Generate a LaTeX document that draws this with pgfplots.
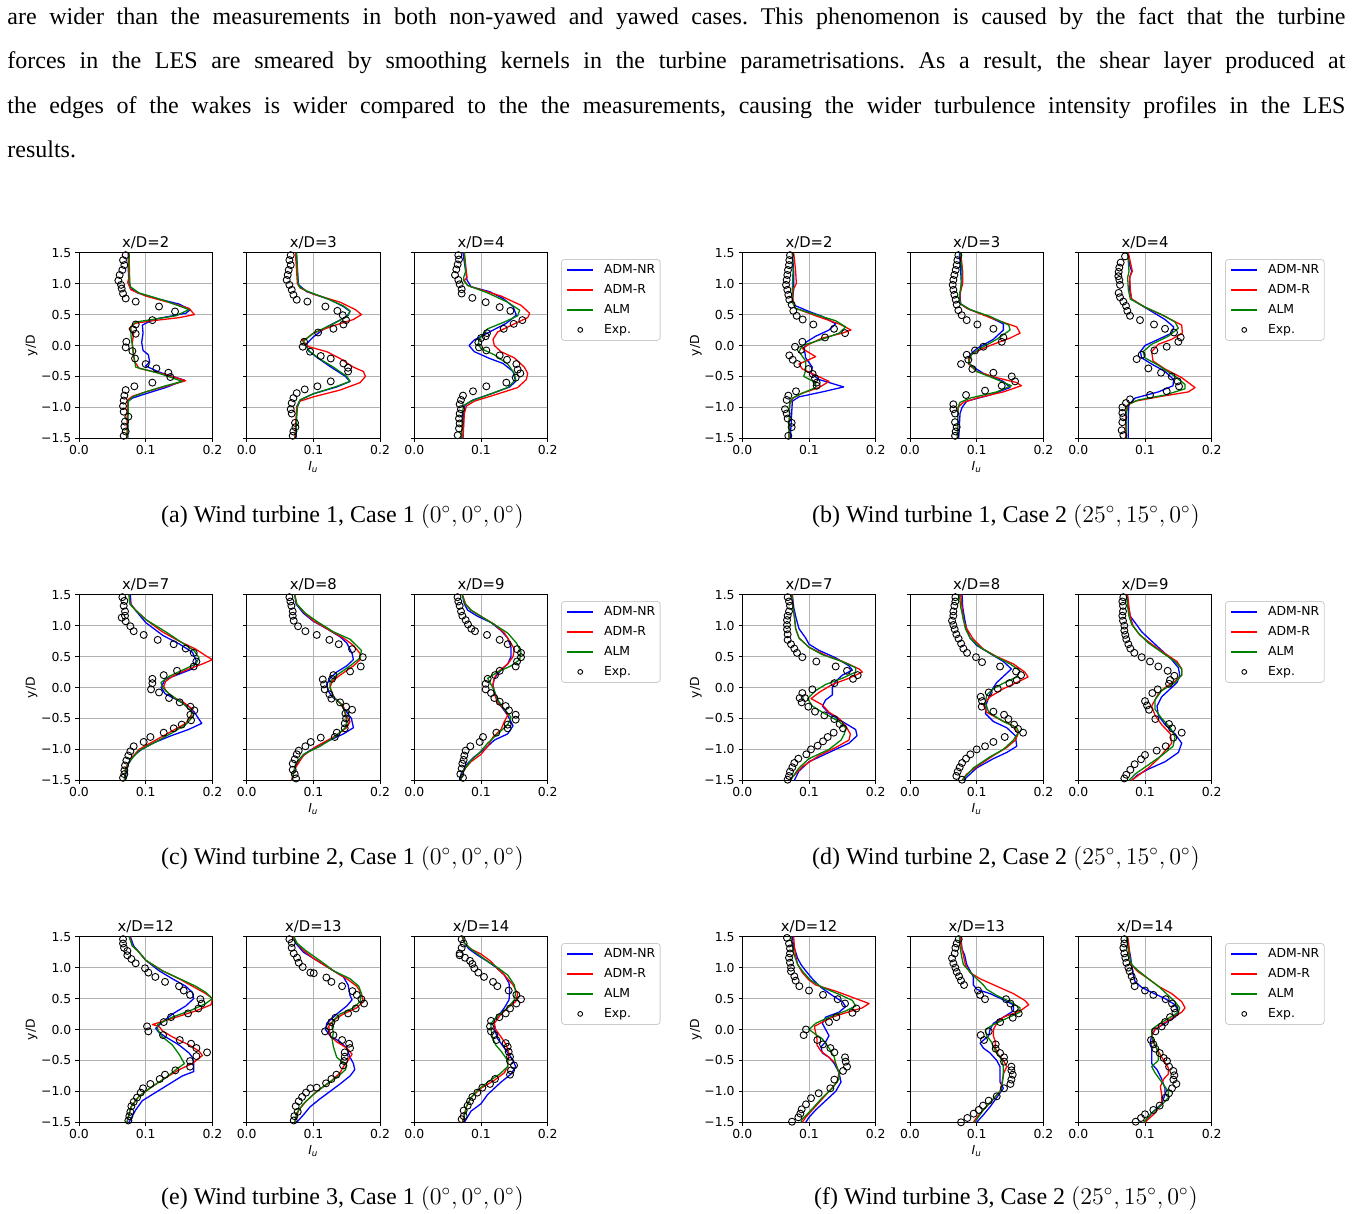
\documentclass[border=0pt]{standalone}
\usepackage[no-math]{fontspec}
\setmainfont{Liberation Serif}
\newfontfamily\djv{DejaVu Sans}
\usepackage{pgfplots}
\pgfplotsset{compat=1.18}
\definecolor{mgreen}{rgb}{0,0.5,0}
\definecolor{mred}{rgb}{1,0,0}
\definecolor{mblue}{rgb}{0,0,1}
\newcommand\tk{\djv\fontsize{6.2}{7.4}\selectfont}
\newcommand\ttl{\djv\fontsize{7.4}{8.8}\selectfont}
\pgfplotsset{
 every axis title shift=0pt,
 pan/.style={width=66.7pt,height=92.8pt,scale only axis,anchor=north west,
  xmin=0,xmax=0.2,ymin=-1.5,ymax=1.5,
  xtick={0,0.1,0.2},xticklabels={0.0,0.1,0.2},
  ytick={-1.5,-1,-0.5,0,0.5,1,1.5},yticklabels={},
  grid=major, major grid style={black!30,line width=0.4pt},
  axis line style={line width=0.45pt},
  tick style={black,line width=0.45pt},
  tick align=outside, major tick length=1.75pt,
  xtick pos=bottom, ytick pos=left,
  ticklabel style={font=\tk},
  xticklabel style={inner sep=0pt,anchor=north,yshift=-1.6pt},
  yticklabel style={inner sep=0pt,anchor=east,xshift=-1.9pt},
  title style={font=\ttl,at={(0.5,1)},anchor=base,yshift=2.7pt,inner sep=0pt},
  legend cell align=left,
  legend style={at={(1.1,0.966)},anchor=north west,draw=black!20,rounded corners=1.5pt,fill=white,font=\tk,
   inner xsep=2.5pt,inner ysep=2pt,row sep=3.5pt,column sep=5pt,
   nodes={inner sep=0pt,text height=5pt,text depth=1.5pt}},
 },
 firstaxis/.style={yticklabels={−1.5,−1.0,−0.5,0.0,0.5,1.0,1.5}},
 sNR/.style={color=mblue,line width=0.65pt,mark=none,line join=round},
 sR/.style={color=mred,line width=0.65pt,mark=none,line join=round},
 sALM/.style={color=mgreen,line width=0.65pt,mark=none,line join=round},
 sExp/.style={only marks,mark=o,mark size=1.75pt,mark options={black,line width=0.45pt}},
 lineimg/.style={legend image code/.code={\draw[##1] (0pt,0pt) -- (12.8pt,0pt);}},
 markimg/.style={legend image code/.code={\draw[##1] plot coordinates {(6.4pt,0pt)};}},
}
\newcommand\legcode{%
 \addlegendimage{lineimg,draw=mblue,line width=1pt}\addlegendentry{ADM-NR}%
 \addlegendimage{lineimg,draw=mred,line width=1pt}\addlegendentry{ADM-R}%
 \addlegendimage{lineimg,draw=mgreen,line width=1pt}\addlegendentry{ALM}%
 \addlegendimage{markimg,only marks,mark=o,mark size=1.2pt,mark options={black,line width=0.45pt}}\addlegendentry{Exp.}}
% #1,#2: top-left corner in reference pixels (1 px = 0.5 pt)
\newcommand\panel[9]{%
\begin{axis}[pan,at={({#1*0.5pt},{-#2*0.5pt})},title={x/D=#3},#4]
\addplot[sNR,forget plot] coordinates {#6};
\addplot[sR,forget plot] coordinates {#7};
\addplot[sALM,forget plot] coordinates {#8};
\addplot[sExp,forget plot] coordinates {#9};
#5
\end{axis}}
\newcommand\bodyline[2]{\node[anchor=base west,inner sep=0pt] at (7,#1) {\fontsize{12}{14}\selectfont\frenchspacing\makebox[669pt][s]{#2}};}
\begin{document}
\begin{tikzpicture}
\begin{scope}[x=0.5pt,y=-0.5pt]
\useasboundingbox (0,0) rectangle (1365,1214);
% body text
\bodyline{25}{are wider than the measurements in both non-yawed and yawed cases. This phenomenon is caused by the fact that the turbine}
\bodyline{69}{forces in the LES are smeared by smoothing kernels in the turbine parametrisations. As a result, the shear layer produced at}
\bodyline{113.5}{the edges of the wakes is wider compared to the the measurements, causing the wider turbulence intensity profiles in the LES}
\node[anchor=base west,inner sep=0pt,font=\fontsize{12}{14}\selectfont] at (7,158) {results.};
% axis labels
\foreach \r in {0,342,684}{
 \node[rotate=90,font=\tk,inner sep=0pt] at (31.7,345.5+\r) {y/D};
 \node[rotate=90,font=\tk,inner sep=0pt] at (696,345.5+\r) {y/D};
 \node[anchor=base,font=\tk,inner sep=0pt] at (313.4,470.7+\r) {\itshape I\textsubscript{u}};
 \node[anchor=base,font=\tk,inner sep=0pt] at (976.7,470.7+\r) {\itshape I\textsubscript{u}};
}
% captions
\begin{scope}[every node/.style={anchor=base,inner sep=0pt,font=\fontsize{12}{14}\selectfont}]
\node at (342.5,522) {(a) Wind turbine 1, Case 1 $(0^\circ,0^\circ,0^\circ)$};
\node at (1006,522) {(b) Wind turbine 1, Case 2 $(25^\circ,15^\circ,0^\circ)$};
\node at (342.5,864) {(c) Wind turbine 2, Case 1 $(0^\circ,0^\circ,0^\circ)$};
\node at (1006,864) {(d) Wind turbine 2, Case 2 $(25^\circ,15^\circ,0^\circ)$};
\node at (342.5,1204) {(e) Wind turbine 3, Case 1 $(0^\circ,0^\circ,0^\circ)$};
\node at (1006,1204) {(f) Wind turbine 3, Case 2 $(25^\circ,15^\circ,0^\circ)$};
\end{scope}
\end{scope}

% ================= (a) =================
\panel{79}{252.7}{2}{firstaxis}{}
{(0.074,1.5)(0.074,1.2)(0.075,1.0)(0.077,0.92)(0.088,0.85)(0.12,0.75)(0.15,0.67)(0.167,0.58)(0.16,0.52)(0.12,0.44)(0.108,0.4)(0.095,0.33)(0.096,0.2)(0.094,0.05)(0.096,-0.08)(0.104,-0.15)(0.106,-0.27)(0.1,-0.33)(0.12,-0.43)(0.158,-0.56)(0.13,-0.68)(0.1,-0.78)(0.08,-0.85)(0.074,-0.9)(0.073,-1.2)(0.073,-1.5)}
{(0.074,1.5)(0.075,1.1)(0.073,1.02)(0.078,0.9)(0.1,0.8)(0.14,0.68)(0.165,0.6)(0.173,0.5)(0.15,0.45)(0.11,0.4)(0.085,0.36)(0.08,0.33)(0.075,0.27)(0.082,0.2)(0.08,0.05)(0.081,-0.1)(0.083,-0.25)(0.09,-0.37)(0.13,-0.47)(0.16,-0.57)(0.13,-0.66)(0.1,-0.75)(0.08,-0.82)(0.073,-0.88)(0.072,-1.2)(0.072,-1.5)}
{(0.075,1.5)(0.076,1.05)(0.077,0.95)(0.09,0.85)(0.13,0.72)(0.165,0.58)(0.145,0.48)(0.11,0.42)(0.085,0.38)(0.078,0.3)(0.078,0.15)(0.08,0)(0.082,-0.15)(0.085,-0.35)(0.12,-0.45)(0.155,-0.58)(0.13,-0.65)(0.1,-0.75)(0.08,-0.83)(0.074,-0.9)(0.073,-1.5)}
{(0.07,1.46)(0.066,1.38)(0.068,1.30)(0.065,1.22)(0.061,1.14)(0.059,1.05)(0.063,0.98)(0.064,0.92)(0.066,0.84)(0.07,0.76)(0.085,0.71)(0.12,0.63)(0.144,0.55)(0.11,0.41)(0.085,0.34)(0.081,0.26)(0.085,0.19)(0.071,0.06)(0.07,-0.03)(0.08,-0.09)(0.084,-0.21)(0.10,-0.30)(0.116,-0.37)(0.134,-0.44)(0.137,-0.51)(0.11,-0.60)(0.083,-0.66)(0.07,-0.72)(0.068,-0.81)(0.067,-0.89)(0.066,-0.98)(0.067,-1.07)(0.074,-1.15)(0.069,-1.23)(0.068,-1.31)(0.07,-1.39)(0.067,-1.46)}
\panel{246.7}{252.7}{3}{}{}
{(0.074,1.5)(0.0775,1.0)(0.078,0.98)(0.09,0.87)(0.125,0.74)(0.145,0.63)(0.155,0.55)(0.15,0.47)(0.12,0.3)(0.1,0.14)(0.09,0.03)(0.092,-0.08)(0.105,-0.19)(0.125,-0.34)(0.148,-0.5)(0.155,-0.58)(0.135,-0.67)(0.1,-0.78)(0.08,-0.88)(0.075,-0.99)(0.074,-1.5)}
{(0.073,1.5)(0.076,1.0)(0.08,0.93)(0.1,0.83)(0.14,0.7)(0.163,0.58)(0.172,0.5)(0.16,0.42)(0.13,0.32)(0.1,0.2)(0.088,0.1)(0.0825,0.09)(0.093,-0.02)(0.12,-0.1)(0.14,-0.21)(0.16,-0.35)(0.175,-0.42)(0.178,-0.5)(0.17,-0.6)(0.14,-0.72)(0.1,-0.83)(0.08,-0.9)(0.075,-1.0)(0.072,-1.5)}
{(0.075,1.5)(0.077,1.0)(0.079,0.95)(0.09,0.88)(0.12,0.76)(0.145,0.64)(0.155,0.56)(0.152,0.48)(0.13,0.35)(0.1,0.2)(0.085,0.07)(0.088,0)(0.095,-0.1)(0.11,-0.22)(0.13,-0.35)(0.15,-0.5)(0.155,-0.58)(0.135,-0.66)(0.1,-0.78)(0.08,-0.88)(0.076,-1.0)(0.073,-1.5)}
{(0.066,1.46)(0.064,1.38)(0.066,1.30)(0.063,1.22)(0.0615,1.14)(0.06,1.06)(0.064,0.98)(0.0675,0.90)(0.07,0.82)(0.075,0.74)(0.091,0.71)(0.118,0.63)(0.136,0.56)(0.144,0.49)(0.149,0.41)(0.145,0.34)(0.13,0.27)(0.107,0.21)(0.086,0.06)(0.084,-0.02)(0.095,-0.10)(0.111,-0.17)(0.126,-0.21)(0.145,-0.29)(0.152,-0.36)(0.152,-0.42)(0.126,-0.58)(0.106,-0.66)(0.087,-0.71)(0.075,-0.77)(0.07,-0.85)(0.0675,-0.93)(0.066,-1.03)(0.0675,-1.10)(0.0725,-1.25)(0.073,-1.32)(0.07,-1.39)(0.069,-1.46)}
\panel{414.3}{252.7}{4}{}{\legcode}
{(0.073,1.5)(0.077,1.2)(0.079,1.06)(0.085,0.95)(0.113,0.87)(0.133,0.76)(0.148,0.63)(0.153,0.49)(0.138,0.36)(0.113,0.22)(0.09,0.09)(0.082,0)(0.09,-0.1)(0.113,-0.21)(0.133,-0.29)(0.148,-0.42)(0.152,-0.58)(0.143,-0.67)(0.118,-0.77)(0.088,-0.88)(0.076,-0.96)(0.074,-1.15)(0.073,-1.5)}
{(0.075,1.5)(0.078,1.2)(0.079,1.1)(0.075,1.05)(0.08,0.97)(0.1,0.9)(0.13,0.8)(0.16,0.65)(0.173,0.52)(0.17,0.45)(0.15,0.35)(0.125,0.22)(0.118,0.1)(0.12,0)(0.13,-0.1)(0.15,-0.2)(0.165,-0.35)(0.17,-0.45)(0.168,-0.55)(0.155,-0.68)(0.12,-0.8)(0.09,-0.9)(0.078,-0.98)(0.075,-1.1)(0.073,-1.5)}
{(0.075,1.5)(0.077,1.2)(0.074,1.1)(0.074,1.05)(0.08,0.97)(0.11,0.85)(0.14,0.7)(0.158,0.57)(0.155,0.48)(0.135,0.38)(0.11,0.27)(0.097,0.1)(0.096,0.03)(0.1,-0.05)(0.12,-0.15)(0.14,-0.3)(0.15,-0.45)(0.152,-0.55)(0.14,-0.68)(0.11,-0.8)(0.085,-0.9)(0.074,-0.97)(0.072,-1.1)(0.071,-1.5)}
{(0.066,1.46)(0.067,1.39)(0.065,1.31)(0.063,1.23)(0.061,1.14)(0.066,1.06)(0.068,0.99)(0.071,0.91)(0.071,0.84)(0.087,0.77)(0.107,0.70)(0.128,0.62)(0.144,0.56)(0.162,0.41)(0.149,0.35)(0.134,0.27)(0.109,0.20)(0.107,0.15)(0.10,0.12)(0.096,0.05)(0.097,-0.03)(0.108,-0.08)(0.128,-0.16)(0.139,-0.23)(0.153,-0.30)(0.155,-0.39)(0.159,-0.45)(0.152,-0.52)(0.138,-0.60)(0.108,-0.66)(0.088,-0.74)(0.073,-0.81)(0.070,-0.88)(0.068,-0.95)(0.070,-1.03)(0.068,-1.10)(0.067,-1.18)(0.068,-1.26)(0.067,-1.34)(0.065,-1.45)}
% ================= (b) =================
\panel{742.3}{252.7}{2}{firstaxis}{}
{(0.075,1.5)(0.077,1.2)(0.077,0.9)(0.075,0.75)(0.078,0.65)(0.1,0.55)(0.12,0.47)(0.14,0.35)(0.13,0.25)(0.11,0.15)(0.095,0.05)(0.093,-0.05)(0.095,-0.2)(0.105,-0.35)(0.103,-0.45)(0.115,-0.55)(0.152,-0.67)(0.12,-0.75)(0.085,-0.83)(0.075,-0.9)(0.074,-1.1)(0.072,-1.5)}
{(0.077,1.5)(0.08,1.2)(0.081,1.0)(0.076,0.9)(0.076,0.7)(0.08,0.6)(0.11,0.48)(0.145,0.35)(0.163,0.25)(0.15,0.2)(0.12,0.12)(0.1,0.02)(0.09,-0.05)(0.11,-0.18)(0.085,-0.3)(0.09,-0.38)(0.11,-0.48)(0.13,-0.58)(0.115,-0.68)(0.09,-0.77)(0.076,-0.85)(0.071,-0.95)(0.07,-1.5)}
{(0.075,1.5)(0.076,1.2)(0.075,0.9)(0.075,0.7)(0.08,0.6)(0.11,0.5)(0.14,0.4)(0.155,0.3)(0.145,0.2)(0.12,0.1)(0.09,0)(0.085,-0.1)(0.095,-0.25)(0.095,-0.4)(0.092,-0.5)(0.11,-0.6)(0.11,-0.68)(0.09,-0.77)(0.075,-0.85)(0.071,-0.95)(0.07,-1.5)}
{(0.0715,1.46)(0.0705,1.38)(0.07,1.30)(0.0685,1.22)(0.0675,1.14)(0.0665,1.06)(0.0655,0.98)(0.0675,0.90)(0.069,0.82)(0.0705,0.74)(0.074,0.66)(0.0765,0.56)(0.0815,0.48)(0.0905,0.42)(0.1065,0.34)(0.1375,0.27)(0.154,0.20)(0.124,0.13)(0.09,0.06)(0.079,-0.02)(0.088,-0.07)(0.0705,-0.16)(0.0755,-0.23)(0.0825,-0.30)(0.099,-0.38)(0.1055,-0.46)(0.109,-0.53)(0.1115,-0.60)(0.1115,-0.65)(0.0805,-0.74)(0.069,-0.81)(0.0665,-0.88)(0.064,-1.03)(0.0665,-1.10)(0.068,-1.18)(0.074,-1.25)(0.074,-1.32)(0.069,-1.46)}
\panel{910}{252.7}{3}{}{}
{(0.074,1.5)(0.076,1.2)(0.077,1.0)(0.075,0.8)(0.076,0.67)(0.09,0.58)(0.115,0.48)(0.14,0.35)(0.14,0.25)(0.125,0.1)(0.1,-0.05)(0.09,-0.15)(0.088,-0.28)(0.095,-0.35)(0.11,-0.45)(0.14,-0.58)(0.15,-0.68)(0.12,-0.8)(0.085,-0.9)(0.078,-1.0)(0.075,-1.1)(0.073,-1.5)}
{(0.076,1.5)(0.079,1.2)(0.079,1.0)(0.075,0.85)(0.075,0.68)(0.085,0.6)(0.12,0.45)(0.16,0.3)(0.165,0.2)(0.15,0.12)(0.12,0)(0.095,-0.12)(0.088,-0.2)(0.088,-0.3)(0.1,-0.42)(0.13,-0.52)(0.16,-0.6)(0.167,-0.65)(0.14,-0.75)(0.1,-0.85)(0.08,-0.92)(0.072,-1.0)(0.071,-1.5)}
{(0.075,1.5)(0.078,1.2)(0.077,1.0)(0.074,0.8)(0.075,0.68)(0.09,0.58)(0.12,0.47)(0.148,0.33)(0.15,0.25)(0.13,0.1)(0.105,-0.05)(0.092,-0.15)(0.088,-0.28)(0.1,-0.42)(0.13,-0.55)(0.152,-0.65)(0.13,-0.75)(0.09,-0.85)(0.075,-0.92)(0.072,-1.0)(0.071,-1.5)}
{(0.0725,1.46)(0.071,1.38)(0.07,1.30)(0.0685,1.22)(0.0665,1.14)(0.065,1.06)(0.064,0.98)(0.065,0.90)(0.0665,0.82)(0.0685,0.74)(0.07,0.66)(0.0725,0.57)(0.0775,0.49)(0.085,0.41)(0.101,0.34)(0.125,0.27)(0.14,0.13)(0.1375,0.06)(0.11,-0.02)(0.0975,-0.08)(0.085,-0.15)(0.0875,-0.23)(0.0765,-0.30)(0.0935,-0.38)(0.125,-0.44)(0.1525,-0.50)(0.1575,-0.58)(0.1375,-0.65)(0.1125,-0.73)(0.084,-0.80)(0.065,-0.95)(0.065,-1.03)(0.0675,-1.10)(0.0675,-1.24)(0.07,-1.32)(0.0685,-1.39)(0.0675,-1.46)}
\panel{1078.3}{252.7}{4}{}{\legcode}
{(0.074,1.5)(0.077,1.3)(0.08,1.2)(0.077,1.1)(0.077,0.9)(0.08,0.75)(0.09,0.68)(0.11,0.55)(0.13,0.42)(0.143,0.3)(0.14,0.2)(0.12,0.1)(0.1,0)(0.093,-0.1)(0.095,-0.2)(0.11,-0.3)(0.13,-0.42)(0.143,-0.55)(0.142,-0.65)(0.12,-0.75)(0.085,-0.85)(0.076,-0.95)(0.075,-1.1)(0.075,-1.5)}
{(0.075,1.5)(0.079,1.3)(0.081,1.2)(0.077,1.1)(0.078,0.9)(0.08,0.75)(0.1,0.62)(0.13,0.47)(0.155,0.33)(0.156,0.2)(0.14,0.1)(0.12,0.02)(0.11,-0.1)(0.112,-0.25)(0.13,-0.38)(0.155,-0.52)(0.175,-0.68)(0.165,-0.75)(0.12,-0.83)(0.085,-0.9)(0.073,-0.97)(0.071,-1.1)(0.071,-1.5)}
{(0.074,1.5)(0.076,1.2)(0.074,1.1)(0.075,0.9)(0.078,0.75)(0.1,0.62)(0.125,0.5)(0.145,0.38)(0.15,0.28)(0.135,0.15)(0.11,0.02)(0.097,-0.1)(0.1,-0.2)(0.12,-0.32)(0.145,-0.5)(0.16,-0.63)(0.16,-0.7)(0.13,-0.8)(0.09,-0.88)(0.075,-0.95)(0.072,-1.1)(0.072,-1.5)}
{(0.07,1.44)(0.0635,1.34)(0.0615,1.26)(0.0605,1.19)(0.06,1.12)(0.0615,1.06)(0.0625,0.98)(0.0605,0.85)(0.0625,0.78)(0.0675,0.71)(0.0715,0.64)(0.0735,0.56)(0.0775,0.48)(0.0925,0.41)(0.1135,0.34)(0.13,0.27)(0.1435,0.21)(0.1535,0.13)(0.15,0.06)(0.1325,-0.02)(0.114,-0.08)(0.095,-0.15)(0.0875,-0.22)(0.105,-0.37)(0.124,-0.44)(0.14,-0.50)(0.149,-0.58)(0.151,-0.66)(0.1325,-0.74)(0.1075,-0.80)(0.0775,-0.87)(0.0715,-0.93)(0.066,-1.00)(0.066,-1.09)(0.0675,-1.16)(0.066,-1.24)(0.065,-1.37)(0.0675,-1.45)}
% ================= (c) =================
\panel{79}{594.7}{7}{firstaxis}{}
{(0.077,1.5)(0.078,1.35)(0.083,1.27)(0.1,1.05)(0.126,0.84)(0.151,0.7)(0.17,0.57)(0.176,0.43)(0.17,0.3)(0.151,0.22)(0.129,0.13)(0.123,0)(0.129,-0.1)(0.145,-0.19)(0.164,-0.3)(0.173,-0.4)(0.184,-0.58)(0.164,-0.68)(0.138,-0.78)(0.113,-0.89)(0.094,-1.0)(0.082,-1.1)(0.072,-1.27)(0.069,-1.5)}
{(0.075,1.5)(0.077,1.35)(0.085,1.25)(0.1,1.1)(0.125,0.9)(0.15,0.75)(0.175,0.62)(0.192,0.5)(0.2,0.45)(0.185,0.38)(0.16,0.28)(0.14,0.18)(0.13,0.1)(0.127,0.02)(0.13,-0.05)(0.14,-0.15)(0.158,-0.25)(0.17,-0.35)(0.168,-0.45)(0.16,-0.58)(0.14,-0.7)(0.115,-0.85)(0.09,-1.0)(0.078,-1.15)(0.07,-1.3)(0.068,-1.5)}
{(0.075,1.5)(0.076,1.35)(0.085,1.25)(0.1,1.1)(0.13,0.9)(0.155,0.72)(0.172,0.6)(0.18,0.48)(0.175,0.38)(0.155,0.28)(0.135,0.18)(0.123,0.08)(0.125,0)(0.135,-0.1)(0.155,-0.25)(0.168,-0.38)(0.17,-0.48)(0.16,-0.6)(0.14,-0.73)(0.115,-0.88)(0.09,-1.02)(0.075,-1.2)(0.07,-1.35)(0.068,-1.5)}
{(0.065,1.46)(0.068,1.40)(0.067,1.32)(0.069,1.23)(0.069,1.16)(0.064,1.13)(0.070,1.07)(0.077,0.99)(0.082,0.91)(0.097,0.85)(0.118,0.77)(0.142,0.70)(0.160,0.63)(0.172,0.56)(0.176,0.42)(0.172,0.34)(0.147,0.27)(0.127,0.20)(0.110,0.14)(0.110,0.07)(0.108,-0.03)(0.12,-0.08)(0.135,-0.17)(0.151,-0.24)(0.167,-0.31)(0.173,-0.37)(0.167,-0.44)(0.168,-0.53)(0.154,-0.60)(0.142,-0.66)(0.127,-0.73)(0.107,-0.80)(0.097,-0.88)(0.082,-0.95)(0.077,-1.03)(0.074,-1.10)(0.071,-1.18)(0.069,-1.26)(0.068,-1.34)(0.068,-1.40)(0.066,-1.46)}
\panel{246.7}{594.7}{8}{}{}
{(0.072,1.5)(0.074,1.35)(0.085,1.2)(0.1,1.07)(0.12,0.95)(0.14,0.82)(0.15,0.72)(0.158,0.55)(0.16,0.45)(0.15,0.35)(0.135,0.25)(0.125,0.15)(0.12,0.05)(0.122,-0.05)(0.128,-0.15)(0.14,-0.25)(0.15,-0.4)(0.157,-0.5)(0.16,-0.65)(0.145,-0.75)(0.125,-0.85)(0.105,-0.95)(0.09,-1.05)(0.08,-1.15)(0.072,-1.3)(0.068,-1.5)}
{(0.072,1.5)(0.075,1.35)(0.087,1.2)(0.1,1.08)(0.125,0.92)(0.145,0.8)(0.16,0.68)(0.17,0.55)(0.17,0.45)(0.16,0.35)(0.14,0.2)(0.128,0.1)(0.125,0)(0.13,-0.15)(0.145,-0.3)(0.148,-0.45)(0.155,-0.55)(0.15,-0.65)(0.13,-0.8)(0.105,-0.95)(0.085,-1.1)(0.073,-1.3)(0.067,-1.5)}
{(0.072,1.5)(0.075,1.35)(0.088,1.2)(0.105,1.07)(0.13,0.9)(0.155,0.78)(0.172,0.6)(0.17,0.48)(0.155,0.35)(0.135,0.2)(0.125,0.1)(0.125,0)(0.13,-0.15)(0.14,-0.25)(0.148,-0.4)(0.15,-0.55)(0.148,-0.65)(0.132,-0.8)(0.11,-0.95)(0.085,-1.08)(0.073,-1.25)(0.068,-1.5)}
{(0.064,1.46)(0.0655,1.39)(0.067,1.32)(0.069,1.23)(0.069,1.16)(0.0705,1.08)(0.077,0.99)(0.088,0.91)(0.105,0.85)(0.124,0.77)(0.138,0.70)(0.158,0.62)(0.174,0.49)(0.171,0.34)(0.155,0.26)(0.130,0.20)(0.128,0.14)(0.114,0.13)(0.116,0.05)(0.117,-0.03)(0.124,-0.11)(0.127,-0.18)(0.140,-0.24)(0.149,-0.31)(0.158,-0.36)(0.148,-0.42)(0.149,-0.50)(0.147,-0.58)(0.147,-0.66)(0.135,-0.73)(0.132,-0.80)(0.111,-0.81)(0.096,-0.88)(0.088,-0.95)(0.078,-1.02)(0.075,-1.08)(0.072,-1.16)(0.069,-1.23)(0.069,-1.33)(0.072,-1.40)(0.074,-1.47)}
\panel{414.3}{594.7}{9}{}{\legcode}
{(0.072,1.5)(0.075,1.35)(0.08,1.25)(0.095,1.15)(0.115,1.05)(0.13,0.92)(0.14,0.8)(0.145,0.65)(0.145,0.5)(0.14,0.38)(0.13,0.28)(0.12,0.15)(0.118,0.05)(0.12,-0.1)(0.125,-0.2)(0.13,-0.3)(0.14,-0.45)(0.148,-0.62)(0.14,-0.75)(0.12,-0.85)(0.105,-1.0)(0.09,-1.12)(0.078,-1.25)(0.07,-1.4)(0.068,-1.5)}
{(0.072,1.5)(0.077,1.35)(0.085,1.25)(0.1,1.15)(0.12,1.02)(0.135,0.88)(0.143,0.75)(0.15,0.62)(0.148,0.5)(0.14,0.38)(0.125,0.25)(0.12,0.15)(0.118,0.05)(0.12,-0.1)(0.125,-0.25)(0.135,-0.35)(0.14,-0.45)(0.135,-0.55)(0.13,-0.68)(0.118,-0.8)(0.11,-0.95)(0.1,-1.08)(0.085,-1.2)(0.073,-1.35)(0.07,-1.5)}
{(0.072,1.5)(0.076,1.35)(0.085,1.25)(0.1,1.15)(0.12,1.02)(0.14,0.88)(0.153,0.72)(0.16,0.58)(0.158,0.45)(0.145,0.35)(0.125,0.25)(0.11,0.15)(0.115,0.05)(0.12,-0.05)(0.125,-0.2)(0.135,-0.35)(0.145,-0.48)(0.14,-0.6)(0.125,-0.75)(0.11,-0.9)(0.098,-1.05)(0.085,-1.18)(0.073,-1.35)(0.07,-1.5)}
{(0.0648,1.46)(0.066,1.39)(0.068,1.32)(0.07,1.23)(0.072,1.16)(0.077,1.09)(0.0805,1.02)(0.0855,0.95)(0.091,0.91)(0.109,0.85)(0.128,0.77)(0.14,0.70)(0.154,0.62)(0.160,0.56)(0.160,0.49)(0.154,0.42)(0.152,0.34)(0.128,0.27)(0.121,0.20)(0.110,0.14)(0.107,0.06)(0.107,-0.03)(0.115,-0.09)(0.12,-0.17)(0.128,-0.23)(0.137,-0.30)(0.142,-0.37)(0.152,-0.44)(0.152,-0.52)(0.14,-0.60)(0.14,-0.66)(0.123,-0.73)(0.103,-0.80)(0.098,-0.88)(0.084,-0.95)(0.077,-1.02)(0.075,-1.10)(0.074,-1.17)(0.072,-1.23)(0.071,-1.31)(0.069,-1.40)(0.073,-1.46)}
% ================= (d) =================
\panel{742.3}{594.7}{7}{firstaxis}{}
{(0.075,1.5)(0.077,1.3)(0.08,1.15)(0.085,0.95)(0.095,0.8)(0.1,0.7)(0.115,0.6)(0.14,0.48)(0.16,0.35)(0.165,0.28)(0.15,0.2)(0.14,0.1)(0.135,0)(0.135,-0.12)(0.125,-0.2)(0.12,-0.3)(0.13,-0.42)(0.15,-0.55)(0.17,-0.68)(0.172,-0.78)(0.16,-0.9)(0.13,-1.05)(0.1,-1.2)(0.085,-1.35)(0.078,-1.5)}
{(0.075,1.5)(0.076,1.3)(0.078,1.15)(0.08,0.95)(0.085,0.8)(0.1,0.65)(0.125,0.52)(0.155,0.4)(0.175,0.3)(0.18,0.25)(0.16,0.15)(0.135,0.05)(0.115,-0.08)(0.103,-0.18)(0.12,-0.28)(0.13,-0.4)(0.145,-0.5)(0.155,-0.62)(0.162,-0.75)(0.16,-0.85)(0.14,-0.97)(0.115,-1.1)(0.09,-1.28)(0.075,-1.45)(0.072,-1.5)}
{(0.074,1.5)(0.076,1.3)(0.078,1.15)(0.08,0.95)(0.085,0.8)(0.1,0.65)(0.12,0.53)(0.15,0.42)(0.17,0.32)(0.17,0.25)(0.15,0.15)(0.125,0.05)(0.11,-0.05)(0.098,-0.18)(0.105,-0.3)(0.12,-0.4)(0.145,-0.55)(0.155,-0.65)(0.153,-0.75)(0.148,-0.85)(0.13,-1.0)(0.1,-1.15)(0.085,-1.3)(0.072,-1.5)}
{(0.068,1.46)(0.070,1.39)(0.0715,1.32)(0.070,1.23)(0.068,1.16)(0.067,1.09)(0.067,1.01)(0.067,0.94)(0.068,0.86)(0.068,0.77)(0.073,0.70)(0.078,0.63)(0.082,0.56)(0.090,0.49)(0.111,0.42)(0.14,0.34)(0.157,0.27)(0.173,0.20)(0.166,0.14)(0.138,0.07)(0.105,-0.03)(0.090,-0.09)(0.086,-0.17)(0.094,-0.17)(0.089,-0.24)(0.099,-0.31)(0.109,-0.39)(0.123,-0.45)(0.138,-0.51)(0.146,-0.59)(0.151,-0.66)(0.137,-0.73)(0.128,-0.80)(0.121,-0.87)(0.113,-0.94)(0.103,-1.00)(0.096,-1.08)(0.084,-1.15)(0.078,-1.22)(0.075,-1.29)(0.0715,-1.36)(0.070,-1.43)(0.068,-1.49)}
\panel{910}{594.7}{8}{}{}
{(0.078,1.5)(0.079,1.3)(0.082,1.1)(0.085,0.95)(0.09,0.8)(0.1,0.68)(0.12,0.55)(0.14,0.42)(0.152,0.3)(0.14,0.18)(0.13,0.08)(0.125,0)(0.12,-0.1)(0.115,-0.25)(0.113,-0.42)(0.125,-0.55)(0.145,-0.65)(0.158,-0.78)(0.16,-0.95)(0.145,-1.05)(0.125,-1.15)(0.1,-1.3)(0.08,-1.5)}
{(0.076,1.5)(0.078,1.3)(0.08,1.1)(0.085,0.95)(0.095,0.78)(0.11,0.62)(0.13,0.5)(0.155,0.38)(0.172,0.25)(0.177,0.17)(0.16,0.08)(0.14,-0.02)(0.12,-0.15)(0.11,-0.28)(0.115,-0.4)(0.135,-0.52)(0.155,-0.62)(0.162,-0.75)(0.158,-0.85)(0.145,-0.97)(0.125,-1.1)(0.1,-1.28)(0.085,-1.4)(0.078,-1.5)}
{(0.074,1.5)(0.076,1.3)(0.08,1.1)(0.083,0.95)(0.09,0.8)(0.105,0.65)(0.125,0.52)(0.15,0.38)(0.165,0.27)(0.16,0.17)(0.14,0.07)(0.125,-0.02)(0.115,-0.12)(0.113,-0.25)(0.118,-0.4)(0.14,-0.55)(0.16,-0.65)(0.163,-0.72)(0.155,-0.85)(0.14,-1.0)(0.12,-1.12)(0.095,-1.3)(0.078,-1.5)}
{(0.068,1.46)(0.068,1.39)(0.0665,1.32)(0.065,1.23)(0.065,1.16)(0.063,1.08)(0.065,1.01)(0.067,0.94)(0.0695,0.86)(0.0728,0.79)(0.0766,0.71)(0.080,0.63)(0.0855,0.56)(0.099,0.49)(0.108,0.41)(0.135,0.34)(0.159,0.26)(0.1665,0.20)(0.160,0.12)(0.149,0.07)(0.1315,-0.02)(0.118,-0.08)(0.106,-0.15)(0.108,-0.22)(0.1075,-0.31)(0.125,-0.39)(0.141,-0.44)(0.1475,-0.51)(0.156,-0.60)(0.162,-0.67)(0.1695,-0.73)(0.142,-0.80)(0.125,-0.88)(0.1125,-0.95)(0.100,-1.00)(0.0905,-1.08)(0.084,-1.15)(0.078,-1.22)(0.0745,-1.29)(0.0715,-1.36)(0.0695,-1.43)(0.078,-1.49)}
\panel{1078.3}{594.7}{9}{}{\legcode}
{(0.073,1.5)(0.075,1.3)(0.078,1.15)(0.085,1.05)(0.095,0.9)(0.11,0.75)(0.125,0.6)(0.14,0.45)(0.15,0.32)(0.152,0.2)(0.148,0.08)(0.135,-0.05)(0.125,-0.15)(0.118,-0.3)(0.12,-0.45)(0.13,-0.6)(0.145,-0.75)(0.155,-0.9)(0.15,-1.05)(0.13,-1.2)(0.105,-1.32)(0.088,-1.42)(0.08,-1.5)}
{(0.074,1.5)(0.076,1.3)(0.078,1.15)(0.082,1.0)(0.092,0.85)(0.11,0.7)(0.13,0.55)(0.148,0.42)(0.155,0.3)(0.155,0.2)(0.145,0.1)(0.13,0)(0.12,-0.1)(0.11,-0.3)(0.115,-0.45)(0.125,-0.6)(0.138,-0.75)(0.14,-0.9)(0.128,-1.05)(0.12,-1.15)(0.105,-1.3)(0.09,-1.42)(0.08,-1.5)}
{(0.072,1.5)(0.074,1.3)(0.076,1.15)(0.08,1.02)(0.09,0.88)(0.105,0.72)(0.125,0.57)(0.145,0.42)(0.155,0.3)(0.155,0.2)(0.145,0.08)(0.125,-0.05)(0.115,-0.2)(0.115,-0.35)(0.125,-0.5)(0.138,-0.65)(0.145,-0.8)(0.142,-0.95)(0.125,-1.1)(0.105,-1.25)(0.085,-1.4)(0.076,-1.5)}
{(0.0675,1.46)(0.066,1.39)(0.067,1.32)(0.067,1.23)(0.066,1.16)(0.067,1.08)(0.069,1.00)(0.069,0.92)(0.0705,0.85)(0.072,0.78)(0.075,0.70)(0.078,0.63)(0.084,0.56)(0.095,0.49)(0.1075,0.42)(0.12,0.34)(0.134,0.27)(0.144,0.19)(0.1375,0.12)(0.136,0.06)(0.119,-0.03)(0.111,-0.09)(0.100,-0.22)(0.103,-0.29)(0.106,-0.36)(0.1155,-0.51)(0.136,-0.59)(0.1405,-0.66)(0.155,-0.73)(0.1425,-0.81)(0.131,-0.95)(0.1175,-1.02)(0.100,-1.09)(0.094,-1.16)(0.0845,-1.24)(0.078,-1.33)(0.072,-1.41)(0.069,-1.47)}
% ================= (e) =================
\panel{79}{936.7}{12}{firstaxis}{}
{(0.077,1.5)(0.082,1.35)(0.09,1.25)(0.1,1.12)(0.12,0.95)(0.14,0.82)(0.16,0.7)(0.17,0.6)(0.172,0.5)(0.16,0.38)(0.14,0.25)(0.125,0.12)(0.115,0.02)(0.12,-0.05)(0.13,-0.12)(0.15,-0.25)(0.165,-0.38)(0.17,-0.45)(0.172,-0.55)(0.172,-0.68)(0.155,-0.75)(0.14,-0.85)(0.125,-0.95)(0.11,-1.05)(0.095,-1.15)(0.085,-1.3)(0.075,-1.5)}
{(0.076,1.5)(0.08,1.35)(0.09,1.25)(0.1,1.12)(0.125,0.95)(0.15,0.82)(0.17,0.7)(0.19,0.58)(0.2,0.5)(0.198,0.4)(0.175,0.3)(0.14,0.18)(0.11,0.08)(0.12,0.05)(0.125,-0.02)(0.14,-0.12)(0.165,-0.25)(0.18,-0.35)(0.185,-0.42)(0.17,-0.55)(0.15,-0.65)(0.13,-0.78)(0.11,-0.92)(0.09,-1.08)(0.078,-1.25)(0.072,-1.5)}
{(0.075,1.5)(0.08,1.35)(0.09,1.25)(0.1,1.12)(0.125,0.95)(0.155,0.8)(0.175,0.7)(0.19,0.6)(0.2,0.5)(0.19,0.42)(0.17,0.32)(0.14,0.2)(0.118,0.08)(0.118,0)(0.125,-0.12)(0.14,-0.25)(0.15,-0.4)(0.158,-0.55)(0.145,-0.65)(0.13,-0.78)(0.11,-0.92)(0.09,-1.08)(0.078,-1.25)(0.072,-1.5)}
{(0.066,1.46)(0.066,1.39)(0.0675,1.32)(0.0725,1.27)(0.0725,1.20)(0.0785,1.14)(0.085,1.07)(0.099,0.99)(0.104,0.92)(0.1145,0.85)(0.129,0.77)(0.15,0.70)(0.157,0.63)(0.1665,0.56)(0.182,0.49)(0.184,0.42)(0.179,0.34)(0.1635,0.26)(0.138,0.20)(0.127,0.12)(0.102,0.05)(0.104,-0.03)(0.126,-0.09)(0.151,-0.17)(0.168,-0.23)(0.176,-0.30)(0.192,-0.37)(0.176,-0.43)(0.1665,-0.51)(0.1665,-0.60)(0.1445,-0.66)(0.129,-0.73)(0.121,-0.80)(0.107,-0.88)(0.096,-0.95)(0.0925,-1.02)(0.087,-1.10)(0.082,-1.17)(0.0785,-1.24)(0.077,-1.33)(0.0755,-1.40)(0.074,-1.47)}
\panel{246.7}{936.7}{13}{}{}
{(0.07,1.5)(0.073,1.4)(0.085,1.25)(0.1,1.15)(0.115,1.05)(0.13,0.95)(0.145,0.85)(0.152,0.72)(0.155,0.55)(0.158,0.48)(0.15,0.38)(0.135,0.25)(0.12,0.1)(0.118,0)(0.125,-0.1)(0.14,-0.2)(0.15,-0.3)(0.155,-0.45)(0.16,-0.55)(0.162,-0.65)(0.155,-0.75)(0.14,-0.88)(0.125,-1.0)(0.11,-1.12)(0.095,-1.25)(0.085,-1.38)(0.075,-1.5)}
{(0.07,1.5)(0.075,1.4)(0.085,1.28)(0.1,1.15)(0.115,1.05)(0.13,0.95)(0.15,0.82)(0.165,0.7)(0.172,0.58)(0.175,0.45)(0.165,0.35)(0.145,0.25)(0.13,0.15)(0.123,0.05)(0.125,-0.1)(0.135,-0.2)(0.15,-0.3)(0.158,-0.4)(0.152,-0.5)(0.145,-0.6)(0.14,-0.7)(0.125,-0.85)(0.105,-1.0)(0.09,-1.15)(0.078,-1.3)(0.072,-1.5)}
{(0.071,1.5)(0.075,1.4)(0.088,1.28)(0.105,1.15)(0.118,1.05)(0.13,0.95)(0.155,0.82)(0.168,0.7)(0.172,0.58)(0.17,0.45)(0.16,0.35)(0.14,0.25)(0.13,0.15)(0.128,0.05)(0.13,-0.05)(0.128,-0.15)(0.13,-0.28)(0.135,-0.45)(0.15,-0.58)(0.148,-0.65)(0.138,-0.75)(0.12,-0.88)(0.1,-1.05)(0.085,-1.2)(0.075,-1.35)(0.072,-1.5)}
{(0.064,1.46)(0.0675,1.40)(0.0675,1.32)(0.0705,1.23)(0.0755,1.16)(0.078,1.08)(0.084,1.01)(0.0955,0.92)(0.1005,0.91)(0.1195,0.84)(0.127,0.77)(0.143,0.70)(0.1585,0.62)(0.165,0.56)(0.172,0.49)(0.176,0.42)(0.1635,0.34)(0.152,0.26)(0.133,0.19)(0.127,0.12)(0.125,0.05)(0.1175,-0.03)(0.130,-0.09)(0.143,-0.17)(0.1535,-0.23)(0.155,-0.30)(0.147,-0.37)(0.147,-0.44)(0.146,-0.51)(0.1445,-0.58)(0.1345,-0.73)(0.127,-0.80)(0.119,-0.87)(0.105,-0.94)(0.0955,-0.95)(0.089,-1.02)(0.083,-1.09)(0.078,-1.16)(0.0735,-1.24)(0.0765,-1.33)(0.0715,-1.40)(0.0705,-1.47)}
\panel{414.3}{936.7}{14}{}{\legcode}
{(0.072,1.5)(0.075,1.4)(0.082,1.3)(0.095,1.2)(0.11,1.1)(0.123,1.0)(0.135,0.88)(0.142,0.75)(0.143,0.6)(0.142,0.48)(0.135,0.35)(0.128,0.25)(0.12,0.15)(0.12,0.05)(0.122,-0.05)(0.125,-0.15)(0.135,-0.3)(0.145,-0.45)(0.15,-0.55)(0.152,-0.6)(0.145,-0.72)(0.13,-0.85)(0.12,-0.95)(0.11,-1.05)(0.1,-1.2)(0.085,-1.32)(0.075,-1.5)}
{(0.072,1.5)(0.075,1.4)(0.085,1.3)(0.1,1.22)(0.115,1.1)(0.125,0.98)(0.135,0.88)(0.148,0.72)(0.155,0.58)(0.152,0.45)(0.14,0.35)(0.128,0.22)(0.12,0.1)(0.122,0)(0.13,-0.12)(0.138,-0.25)(0.142,-0.4)(0.14,-0.5)(0.14,-0.6)(0.135,-0.7)(0.12,-0.82)(0.1,-0.95)(0.085,-1.1)(0.078,-1.25)(0.072,-1.5)}
{(0.073,1.5)(0.075,1.4)(0.085,1.3)(0.1,1.18)(0.11,1.1)(0.125,1.0)(0.14,0.88)(0.15,0.72)(0.152,0.6)(0.15,0.48)(0.14,0.35)(0.125,0.22)(0.115,0.1)(0.115,0)(0.118,-0.15)(0.122,-0.25)(0.13,-0.35)(0.14,-0.5)(0.14,-0.6)(0.128,-0.72)(0.11,-0.85)(0.095,-0.98)(0.085,-1.1)(0.078,-1.25)(0.073,-1.5)}
{(0.071,1.46)(0.074,1.39)(0.071,1.32)(0.068,1.23)(0.068,1.20)(0.076,1.16)(0.0835,1.11)(0.087,1.06)(0.090,0.99)(0.096,0.92)(0.1045,0.85)(0.118,0.77)(0.1245,0.70)(0.1415,0.63)(0.153,0.56)(0.160,0.49)(0.153,0.42)(0.1435,0.34)(0.137,0.26)(0.1275,0.20)(0.115,0.14)(0.1135,0.05)(0.115,-0.03)(0.12,-0.09)(0.123,-0.17)(0.137,-0.22)(0.140,-0.28)(0.1415,-0.36)(0.1435,-0.44)(0.1435,-0.51)(0.1495,-0.58)(0.145,-0.66)(0.1435,-0.73)(0.121,-0.80)(0.1135,-0.88)(0.102,-0.94)(0.0945,-1.02)(0.087,-1.09)(0.0835,-1.16)(0.080,-1.23)(0.074,-1.31)(0.074,-1.40)(0.071,-1.45)}
% ================= (f) =================
\panel{742.3}{936.7}{12}{firstaxis}{}
{(0.075,1.5)(0.077,1.35)(0.08,1.25)(0.083,1.15)(0.088,1.05)(0.095,0.95)(0.105,0.82)(0.118,0.68)(0.135,0.55)(0.15,0.45)(0.155,0.37)(0.145,0.28)(0.125,0.2)(0.12,0.1)(0.125,0)(0.13,-0.1)(0.125,-0.2)(0.118,-0.28)(0.12,-0.38)(0.13,-0.45)(0.138,-0.55)(0.145,-0.7)(0.148,-0.85)(0.14,-1.0)(0.125,-1.15)(0.11,-1.3)(0.1,-1.42)(0.095,-1.5)}
{(0.077,1.5)(0.078,1.35)(0.08,1.2)(0.083,1.05)(0.09,0.92)(0.1,0.8)(0.11,0.72)(0.14,0.62)(0.17,0.5)(0.19,0.42)(0.18,0.35)(0.155,0.27)(0.135,0.2)(0.12,0.12)(0.108,0.05)(0.11,-0.05)(0.112,-0.15)(0.112,-0.25)(0.118,-0.35)(0.13,-0.45)(0.14,-0.55)(0.145,-0.7)(0.142,-0.85)(0.13,-1.0)(0.12,-1.12)(0.105,-1.3)(0.095,-1.42)(0.09,-1.5)}
{(0.073,1.5)(0.075,1.35)(0.078,1.2)(0.083,1.05)(0.092,0.92)(0.102,0.8)(0.12,0.68)(0.145,0.57)(0.165,0.47)(0.17,0.38)(0.155,0.3)(0.13,0.2)(0.11,0.1)(0.1,0)(0.11,-0.08)(0.12,-0.15)(0.13,-0.3)(0.138,-0.45)(0.14,-0.55)(0.145,-0.7)(0.145,-0.8)(0.135,-0.95)(0.12,-1.1)(0.105,-1.28)(0.09,-1.45)(0.088,-1.5)}
{(0.067,1.48)(0.070,1.39)(0.0715,1.31)(0.0715,1.23)(0.070,1.16)(0.0715,1.08)(0.073,1.00)(0.073,0.94)(0.078,0.86)(0.080,0.79)(0.0855,0.70)(0.100,0.63)(0.121,0.56)(0.143,0.49)(0.154,0.42)(0.171,0.34)(0.165,0.27)(0.141,0.20)(0.130,0.12)(0.0955,0.00)(0.092,-0.09)(0.1125,-0.17)(0.121,-0.24)(0.132,-0.30)(0.138,-0.37)(0.154,-0.45)(0.155,-0.52)(0.157,-0.60)(0.151,-0.67)(0.138,-0.81)(0.132,-0.95)(0.1145,-1.03)(0.103,-1.11)(0.0955,-1.21)(0.089,-1.29)(0.087,-1.36)(0.084,-1.42)(0.0745,-1.49)}
\panel{910}{936.7}{13}{}{}
{(0.075,1.5)(0.077,1.4)(0.078,1.3)(0.082,1.2)(0.085,1.05)(0.09,0.95)(0.095,0.85)(0.095,0.72)(0.1,0.65)(0.12,0.58)(0.14,0.48)(0.155,0.4)(0.155,0.3)(0.14,0.2)(0.125,0.1)(0.12,0)(0.118,-0.1)(0.105,-0.22)(0.11,-0.3)(0.12,-0.38)(0.13,-0.5)(0.135,-0.6)(0.135,-0.72)(0.135,-0.85)(0.14,-0.95)(0.13,-1.1)(0.12,-1.25)(0.11,-1.38)(0.1,-1.5)}
{(0.076,1.5)(0.077,1.35)(0.08,1.2)(0.083,1.05)(0.09,0.92)(0.105,0.82)(0.13,0.7)(0.155,0.58)(0.172,0.47)(0.178,0.4)(0.165,0.3)(0.14,0.2)(0.13,0.1)(0.125,0)(0.125,-0.1)(0.128,-0.2)(0.128,-0.3)(0.132,-0.4)(0.14,-0.5)(0.145,-0.6)(0.14,-0.72)(0.138,-0.85)(0.135,-1.0)(0.125,-1.12)(0.11,-1.3)(0.1,-1.42)(0.095,-1.5)}
{(0.074,1.5)(0.075,1.35)(0.077,1.2)(0.08,1.05)(0.09,0.93)(0.1,0.82)(0.11,0.72)(0.115,0.65)(0.13,0.55)(0.15,0.45)(0.165,0.35)(0.165,0.28)(0.145,0.18)(0.125,0.08)(0.113,0)(0.115,-0.1)(0.122,-0.2)(0.128,-0.35)(0.138,-0.5)(0.14,-0.62)(0.14,-0.75)(0.138,-0.9)(0.135,-1.0)(0.125,-1.12)(0.11,-1.3)(0.097,-1.5)}
{(0.073,1.46)(0.070,1.39)(0.068,1.32)(0.067,1.23)(0.063,1.15)(0.065,1.07)(0.068,1.00)(0.070,0.93)(0.0735,0.86)(0.0765,0.79)(0.081,0.72)(0.102,0.63)(0.105,0.56)(0.1125,0.49)(0.144,0.49)(0.1505,0.42)(0.157,0.34)(0.163,0.26)(0.154,0.19)(0.135,0.12)(0.118,-0.03)(0.106,-0.09)(0.111,-0.17)(0.1285,-0.24)(0.1285,-0.31)(0.135,-0.38)(0.141,-0.45)(0.141,-0.52)(0.152,-0.60)(0.152,-0.66)(0.154,-0.73)(0.152,-0.81)(0.1505,-0.88)(0.141,-0.95)(0.130,-1.08)(0.118,-1.15)(0.1095,-1.23)(0.103,-1.30)(0.0955,-1.36)(0.086,-1.43)(0.0765,-1.50)}
\panel{1078.3}{936.7}{14}{}{\legcode}
{(0.073,1.5)(0.075,1.35)(0.078,1.2)(0.08,1.05)(0.082,0.9)(0.085,0.78)(0.095,0.68)(0.11,0.6)(0.13,0.5)(0.145,0.4)(0.15,0.3)(0.145,0.2)(0.13,0.1)(0.115,0)(0.11,-0.1)(0.108,-0.2)(0.11,-0.3)(0.11,-0.45)(0.11,-0.55)(0.118,-0.65)(0.125,-0.8)(0.13,-0.95)(0.13,-1.05)(0.125,-1.2)(0.11,-1.35)(0.1,-1.5)}
{(0.074,1.5)(0.076,1.35)(0.077,1.2)(0.079,1.05)(0.09,0.93)(0.105,0.82)(0.12,0.7)(0.14,0.58)(0.155,0.45)(0.16,0.35)(0.155,0.28)(0.14,0.18)(0.128,0.1)(0.115,0)(0.11,-0.1)(0.112,-0.2)(0.12,-0.35)(0.128,-0.5)(0.135,-0.62)(0.135,-0.72)(0.128,-0.8)(0.123,-0.92)(0.125,-1.05)(0.125,-1.2)(0.115,-1.35)(0.1,-1.5)}
{(0.072,1.5)(0.074,1.35)(0.076,1.2)(0.08,1.05)(0.09,0.95)(0.105,0.82)(0.12,0.7)(0.13,0.6)(0.145,0.45)(0.152,0.35)(0.15,0.28)(0.135,0.18)(0.12,0.08)(0.11,0)(0.11,-0.1)(0.115,-0.25)(0.12,-0.38)(0.12,-0.5)(0.11,-0.6)(0.115,-0.7)(0.125,-0.85)(0.135,-1.0)(0.135,-1.1)(0.125,-1.22)(0.11,-1.35)(0.098,-1.5)}
{(0.069,1.46)(0.069,1.39)(0.0675,1.32)(0.069,1.23)(0.0705,1.16)(0.072,1.08)(0.075,1.00)(0.077,0.94)(0.080,0.86)(0.083,0.79)(0.0845,0.70)(0.100,0.63)(0.1125,0.56)(0.131,0.49)(0.1405,0.42)(0.144,0.34)(0.1455,0.27)(0.1375,0.20)(0.130,0.12)(0.125,0.05)(0.1155,-0.03)(0.109,-0.17)(0.1125,-0.24)(0.1155,-0.31)(0.122,-0.38)(0.128,-0.46)(0.133,-0.51)(0.136,-0.60)(0.1425,-0.67)(0.144,-0.74)(0.1425,-0.81)(0.147,-0.88)(0.1405,-0.95)(0.136,-1.03)(0.131,-1.10)(0.122,-1.23)(0.1125,-1.30)(0.100,-1.37)(0.094,-1.43)(0.086,-1.49)}
\end{tikzpicture}
\end{document}
